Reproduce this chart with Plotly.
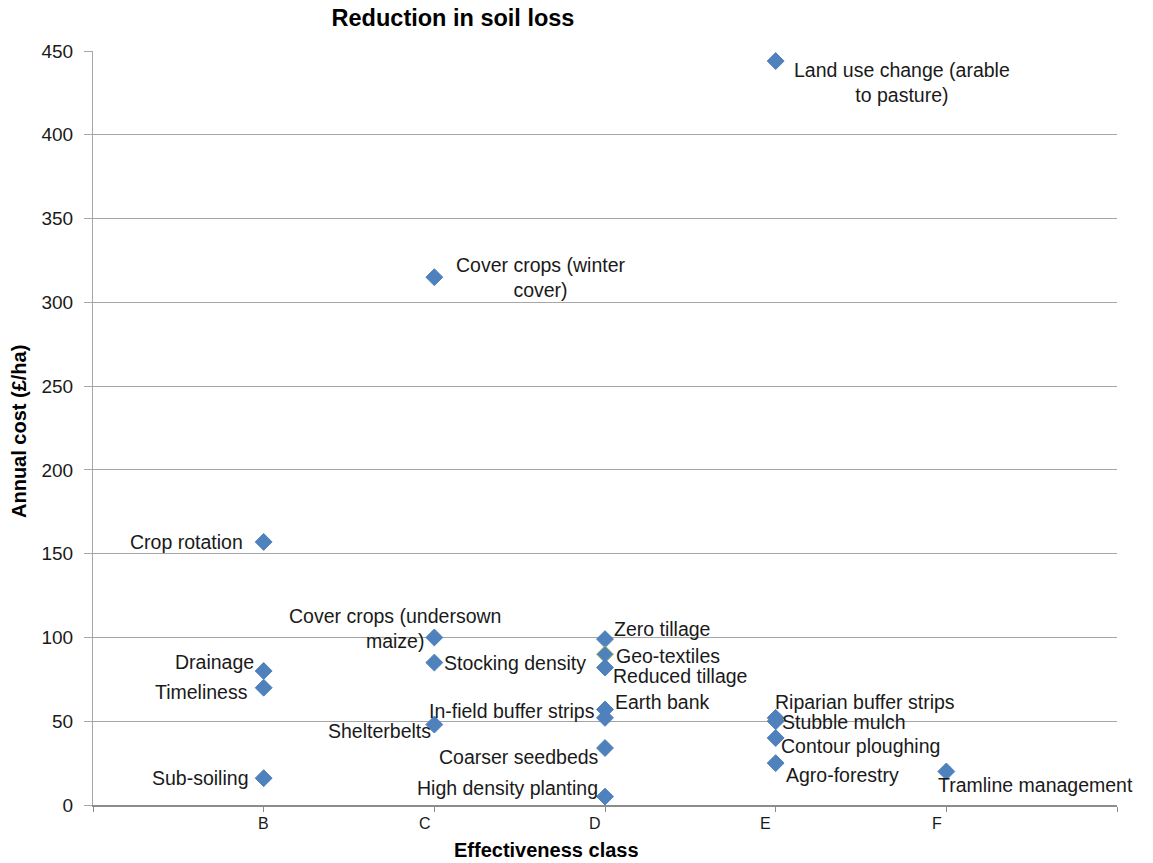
import plotly.graph_objects as go

# Effectiveness classes shown on the x axis
classes = ["B", "C", "D", "E", "F"]

# Measures, their effectiveness class and annual cost (£/ha)
measures = [
    "Crop rotation", "Drainage", "Timeliness", "Sub-soiling",
    "Cover crops (winter<br>cover)", "Cover crops (undersown<br>maize)",
    "Stocking density", "Shelterbelts",
    "Zero tillage", "Geo-textiles", "Reduced tillage", "In-field buffer strips",
    "Earth bank", "Coarser seedbeds", "High density planting",
    "Land use change (arable<br>to pasture)", "Riparian buffer strips",
    "Stubble mulch", "Contour ploughing", "Agro-forestry",
    "Tramline management",
]
measure_class = [
    "B", "B", "B", "B",
    "C", "C", "C", "C",
    "D", "D", "D", "D", "D", "D", "D",
    "E", "E", "E", "E", "E",
    "F",
]
annual_cost = [
    157, 80, 70, 16,
    315, 100, 85, 48,
    99, 90, 82, 57, 52, 34, 5,
    444, 52, 50, 40, 25,
    20,
]

# Label placement next to each marker: (anchor, x offset px, y offset px, align)
label_place = {
    "Crop rotation": ("right", -21, 0, "right"),
    "Drainage": ("right", -10, 9, "right"),
    "Timeliness": ("right", -16, -4, "right"),
    "Sub-soiling": ("right", -16, 0, "right"),
    "Cover crops (winter<br>cover)": ("center", 107, 0, "center"),
    "Cover crops (undersown<br>maize)": ("center", -39, 9, "center"),
    "Stocking density": ("left", 10, 0, "left"),
    "Shelterbelts": ("right", -3, -6, "right"),
    "Zero tillage": ("left", 9, 10, "left"),
    "Geo-textiles": ("left", 11, -2, "left"),
    "Reduced tillage": ("left", 8, -8, "left"),
    "In-field buffer strips": ("right", -10, -2, "right"),
    "Earth bank": ("left", 10, 16, "left"),
    "Coarser seedbeds": ("right", -6, -9, "right"),
    "High density planting": ("right", -7, 9, "right"),
    "Land use change (arable<br>to pasture)": ("center", 126, -21, "center"),
    "Riparian buffer strips": ("left", -1, 16, "left"),
    "Stubble mulch": ("left", 6, -1, "left"),
    "Contour ploughing": ("left", 5, -8, "left"),
    "Agro-forestry": ("left", 10, -12, "left"),
    "Tramline management": ("left", -8, -14, "left"),
}

# Horizontal nudge of each class label relative to its tick (px)
class_label_shift = {"B": 0, "C": -9, "D": -10, "E": -10, "F": -9}

FONT = "Liberation Sans, Arial, sans-serif"
BLUE = "#4F81BD"
GRID = "#A6A6A6"
TEXT = "#1a1a1a"

# Classes sit at integer positions 1..5 on a 0..6 axis
class_pos = {c: i + 1 for i, c in enumerate(classes)}
xs = [class_pos[c] for c in measure_class]

line_colors = ["#9BBB59" if m == "Geo-textiles" else BLUE for m in measures]

fig = go.Figure()
fig.add_trace(go.Scatter(
    x=xs, y=annual_cost, mode="markers",
    marker=dict(symbol="diamond", size=13, color=BLUE,
                line=dict(color=line_colors, width=1)),
    hoverinfo="skip", showlegend=False,
))

annotations = []
for m, x, y in zip(measures, xs, annual_cost):
    anchor, dx, dy, align = label_place[m]
    annotations.append(dict(
        x=x, y=y, xref="x", yref="y", text=m, showarrow=False,
        xanchor=anchor, yanchor="middle", xshift=dx, yshift=dy,
        align=align, borderpad=0, borderwidth=0,
        font=dict(family=FONT, size=19.5, color=TEXT),
    ))

# Class labels under the x axis ticks
for c in classes:
    annotations.append(dict(
        x=class_pos[c], y=0, xref="x", yref="paper", text=c,
        showarrow=False, xanchor="center", yanchor="middle",
        xshift=class_label_shift[c], yshift=-18,
        borderpad=0, borderwidth=0,
        font=dict(family=FONT, size=16, color=TEXT),
    ))

# Axis titles
annotations.append(dict(
    x=-0.0723, y=0.496, xref="paper", yref="paper",
    text="<b>Annual cost (£/ha)</b>", showarrow=False, textangle=-90,
    xanchor="center", yanchor="middle",
    font=dict(family=FONT, size=20, color="#000000"),
))
annotations.append(dict(
    x=0.4424, y=-0.0597, xref="paper", yref="paper",
    text="<b>Effectiveness class</b>", showarrow=False,
    xanchor="center", yanchor="middle",
    font=dict(family=FONT, size=20, color="#000000"),
))

fig.update_layout(
    width=1153, height=863,
    margin=dict(l=93, r=36, t=51, b=58),
    paper_bgcolor="white", plot_bgcolor="white",
    title=dict(
        text="<b>Reduction in soil loss</b>",
        x=453 / 1153, xref="container", xanchor="center",
        y=1 - 18 / 863, yref="container", yanchor="middle",
        font=dict(family=FONT, size=23.5, color="#000000"),
    ),
    annotations=annotations,
    xaxis=dict(
        range=[0, 6],
        tickvals=[0, 1, 2, 3, 4, 5, 6],
        showticklabels=False,
        ticks="outside", ticklen=5, tickcolor="#8C8C8C", tickwidth=1,
        showgrid=False, zeroline=False,
        showline=True, linecolor="#8C8C8C", linewidth=2,
    ),
    yaxis=dict(
        range=[0, 450],
        tickvals=list(range(0, 451, 50)),
        ticks="outside", ticklen=8, tickcolor=GRID, tickwidth=1,
        ticklabelstandoff=7,
        showgrid=True, gridcolor=GRID, gridwidth=1,
        zeroline=False,
        showline=True, linecolor=GRID, linewidth=1,
        tickfont=dict(family=FONT, size=19, color=TEXT),
    ),
)

fig.write_html("out.html")
